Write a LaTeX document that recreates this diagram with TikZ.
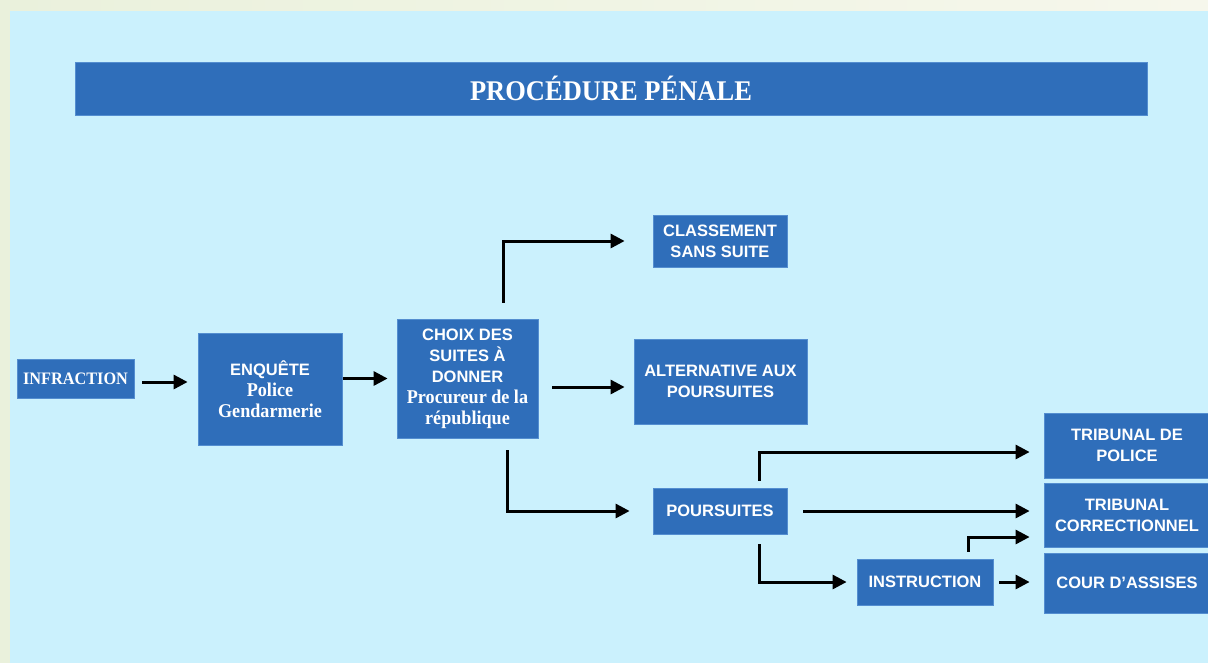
\documentclass[tikz,border=0pt]{standalone}
\usepackage{fontspec}
\usepackage{xcolor}
\usetikzlibrary{arrows.meta}
\newfontfamily\sansbox{Liberation Sans}
\newfontfamily\serifbox{Liberation Serif}[FakeStretch=0.93]
\definecolor{paleleft}{RGB}{234, 241, 220}
\definecolor{paleright}{RGB}{246, 247, 236}
\definecolor{lightcyan}{RGB}{203, 241, 253}
\definecolor{boxblue}{RGB}{47, 110, 186}
\definecolor{boxedge}{RGB}{84, 142, 208}

\tikzset{
  box/.style={fill=boxblue, draw=boxedge, line width=0.8pt, text=white, align=center,
    inner sep=0pt, font=\sansbox\bfseries\fontsize{16.5}{21}\selectfont},
  arr/.style={-{Triangle[length=14pt,width=14pt]}, line width=3pt, black},
}
\newcommand{\serifline}[1]{{\serifbox\bfseries\fontsize{19.5}{21}\selectfont #1}}

\begin{document}
\begin{tikzpicture}[x=1pt, y=-1pt]
    % Background
    \clip (0,0) rectangle (1208,662);
    \shade[left color=paleleft, right color=paleright] (0,0) rectangle (1208,662);
    \fill[lightcyan] (10,11) rectangle (1212,666);

    % Title
    \node[box, minimum width=1072pt, minimum height=53pt,
      font=\serifbox\bfseries\fontsize{28.5}{34}\selectfont] (title) at (611,88.5) {PROCÉDURE PÉNALE};

    % Boxes
    \node[box, minimum width=117pt, minimum height=39pt,
      font=\serifbox\bfseries\fontsize{17.5}{21}\selectfont] (infraction) at (75.5,378.5) {INFRACTION};
    \node[box, minimum width=144pt, minimum height=112pt] (enquete) at (270,389)
      {ENQUÊTE\\\serifline{Police}\\\serifline{Gendarmerie}};
    \node[box, minimum width=141pt, minimum height=119pt] (choix) at (467.5,378.5)
      {CHOIX DES\\SUITES À\\DONNER\\\serifline{Procureur de la}\\\serifline{république}};
    \node[box, minimum width=134pt, minimum height=52pt] (classement) at (720,241) {CLASSEMENT\\SANS SUITE};
    \node[box, minimum width=173pt, minimum height=85pt] (alternative) at (720.5,381.5) {ALTERNATIVE AUX\\POURSUITES};
    \node[box, minimum width=134pt, minimum height=46pt] (poursuites) at (720,511) {POURSUITES};
    \node[box, minimum width=136pt, minimum height=46pt] (instruction) at (925,582) {INSTRUCTION};
    \node[box, minimum width=166pt, minimum height=65pt] (tpolice) at (1127,445.5) {TRIBUNAL DE\\POLICE};
    \node[box, minimum width=166pt, minimum height=64pt] (tcorr) at (1127,515) {TRIBUNAL\\CORRECTIONNEL};
    \node[box, minimum width=166pt, minimum height=60pt] (cour) at (1127,583) {COUR D’ASSISES};

    % Arrows
    \draw[arr, shorten <=8pt, shorten >=10pt] ([yshift=-3.5pt]infraction.east) -- ([yshift=-3.5pt]infraction.east -| enquete.west);
    \draw[arr, shorten <=1pt, shorten >=9pt] (enquete.east |- choix.west) -- (choix.west);
    \draw[arr, shorten <=16pt, shorten >=28pt] ([xshift=36pt]choix.north) |- (classement.west);
    \draw[arr, shorten <=14pt, shorten >=9pt] ([yshift=-8.5pt]choix.east) -- ([yshift=-8.5pt]choix.east -| alternative.west);
    \draw[arr, shorten <=12pt, shorten >=23pt] ([xshift=40pt]choix.south) |- (poursuites.west);
    \draw[arr, shorten <=7pt, shorten >=14pt] ([xshift=39pt]poursuites.north) |- ([yshift=-6.5pt]tpolice.west);
    \draw[arr, shorten <=16pt, shorten >=14pt] (poursuites.east) -- (poursuites.east -| tcorr.west);
    \draw[arr, shorten <=10pt, shorten >=10pt] ([xshift=39pt]poursuites.south) |- (instruction.west);
    \draw[arr, shorten <=7pt, shorten >=14pt] ([xshift=43pt]instruction.north) |- ([yshift=-22pt]tcorr.west);
    \draw[arr, shorten <=6pt, shorten >=14pt] (instruction.east) -- (instruction.east -| cour.west);
\end{tikzpicture}
\end{document}
